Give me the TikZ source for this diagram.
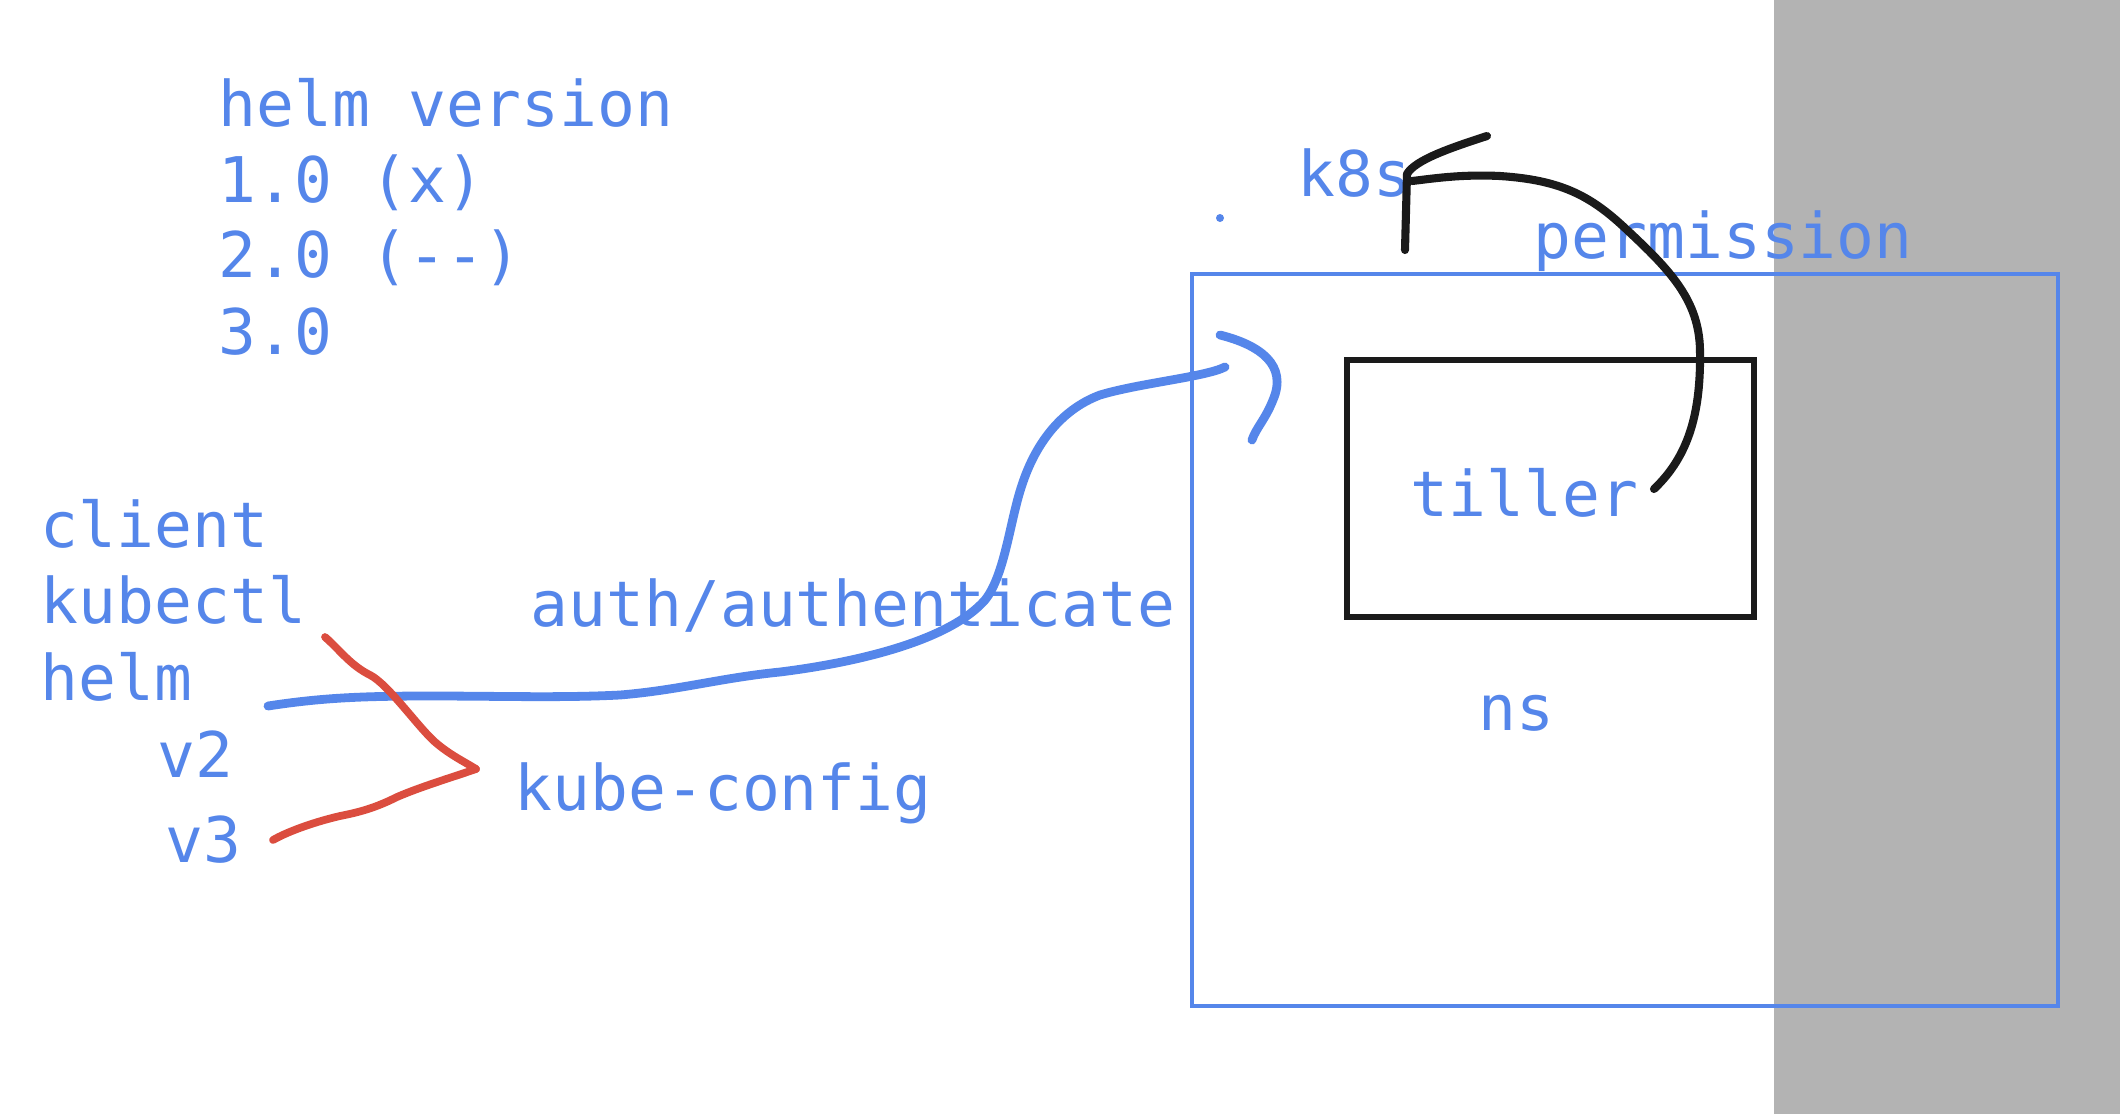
\documentclass[tikz,border=0pt]{standalone}
\usepackage{fontspec}
\setmonofont{DejaVu Sans Mono}
\definecolor{gblue}{RGB}{85,134,234}
\definecolor{gred}{RGB}{219,77,63}
\definecolor{ink}{RGB}{26,26,26}
\definecolor{greyfill}{RGB}{179,179,179}
\begin{document}
\begin{tikzpicture}[x=0.01cm,y=-0.01cm,
  lbl/.style={anchor=base west,inner sep=0pt,text=gblue,font=\ttfamily\fontsize{17.9pt}{21.6pt}\selectfont},
  pen/.style={line width=2.5pt,line cap=round,line join=round},
  bluepen/.style={pen,draw=gblue},
  redpen/.style={pen,draw=gred,line width=2.2pt},
  blackpen/.style={pen,draw=ink,line width=2.3pt}]
\useasboundingbox (0,0) rectangle (2120,1114);
\fill[white] (0,0) rectangle (2120,1114);
\fill[greyfill] (1774,0) rectangle (2120,1114);
% boxes
\draw[gblue,line width=1.3pt] (1192,274) rectangle (2058,1006);
\draw[ink,line width=1.6pt] (1347,360) rectangle (1754,617);
\fill[gblue] (1220,218) circle (4);
% texts
\node[lbl] (hv) at (218,126) {helm version};
\node[lbl] (v1) at (218,202) {1.0 (x)};
\node[lbl] (v2a) at (218,277) {2.0 (-{}-)};
\node[lbl] (v3a) at (218,354) {3.0};
\node[lbl] (k8s) at (1297,196) {k8s};
\node[lbl] (perm) at (1533,258) {permission};
\node[lbl] (tiller) at (1410,516) {tiller};
\node[lbl] (ns) at (1478,730) {ns};
\node[lbl] (client) at (40,547) {client};
\node[lbl] (kubectl) at (40,623) {kubectl};
\node[lbl] (helm) at (40,700) {helm};
\node[lbl] (v2) at (157,777) {v2};
\node[lbl] (v3) at (165,862) {v3};
\node[lbl] (kc) at (514,810) {kube-config};
\node[lbl] (auth) at (530,626) {auth/authenticate};
% coordinates
\coordinate (helmEnd) at (268,706);
\coordinate (boxIn) at (1225,367);
\coordinate (hookTop) at (1220,335);
\coordinate (hookEnd) at (1252,440);
\coordinate (kubectlEnd) at (325,637);
\coordinate (kcTip) at (476,769);
\coordinate (v3End) at (273,840);
\coordinate (tillerEnd) at (1654,489);
\coordinate (k8sFoot) at (1405,250);
\coordinate (k8sTop) at (1407,174);
\coordinate (k8sIn) at (1412,181);
\coordinate (headEnd) at (1487,136);
% blue connector
\draw[bluepen] (helmEnd) .. controls (320,698) and (360,696) .. (430,696)
  .. controls (500,696) and (560,698) .. (620,695)
  .. controls (680,690) and (720,678) .. (780,672)
  .. controls (860,662) and (950,640) .. (985,600)
  .. controls (1005,575) and (1010,520) .. (1022,485)
  .. controls (1035,445) and (1060,410) .. (1100,395)
  .. controls (1140,383) and (1205,377) .. (boxIn);
\draw[bluepen] (hookTop) .. controls (1260,345) and (1288,365) .. (1273,400)
  .. controls (1265,420) and (1256,428) .. (hookEnd);
% red strokes
\draw[redpen] (kubectlEnd) .. controls (340,650) and (350,665) .. (370,675)
  .. controls (388,684) and (418,727) .. (435,742)
  .. controls (450,755) and (465,762) .. (kcTip);
\draw[redpen] (kcTip) .. controls (450,778) and (420,787) .. (397,797)
  .. controls (375,808) and (360,812) .. (340,816)
  .. controls (310,823) and (285,833) .. (v3End);
% black arrow
\draw[blackpen] (tillerEnd) .. controls (1690,455) and (1701,410) .. (1700,350)
  .. controls (1699,300) and (1670,270) .. (1626,229)
  .. controls (1590,195) and (1560,180) .. (1500,176)
  .. controls (1460,174) and (1430,179) .. (k8sIn);
\draw[blackpen] (k8sFoot) -- (k8sTop);
\draw[blackpen] (k8sTop) .. controls (1415,160) and (1450,148) .. (headEnd);
\end{tikzpicture}
\end{document}
